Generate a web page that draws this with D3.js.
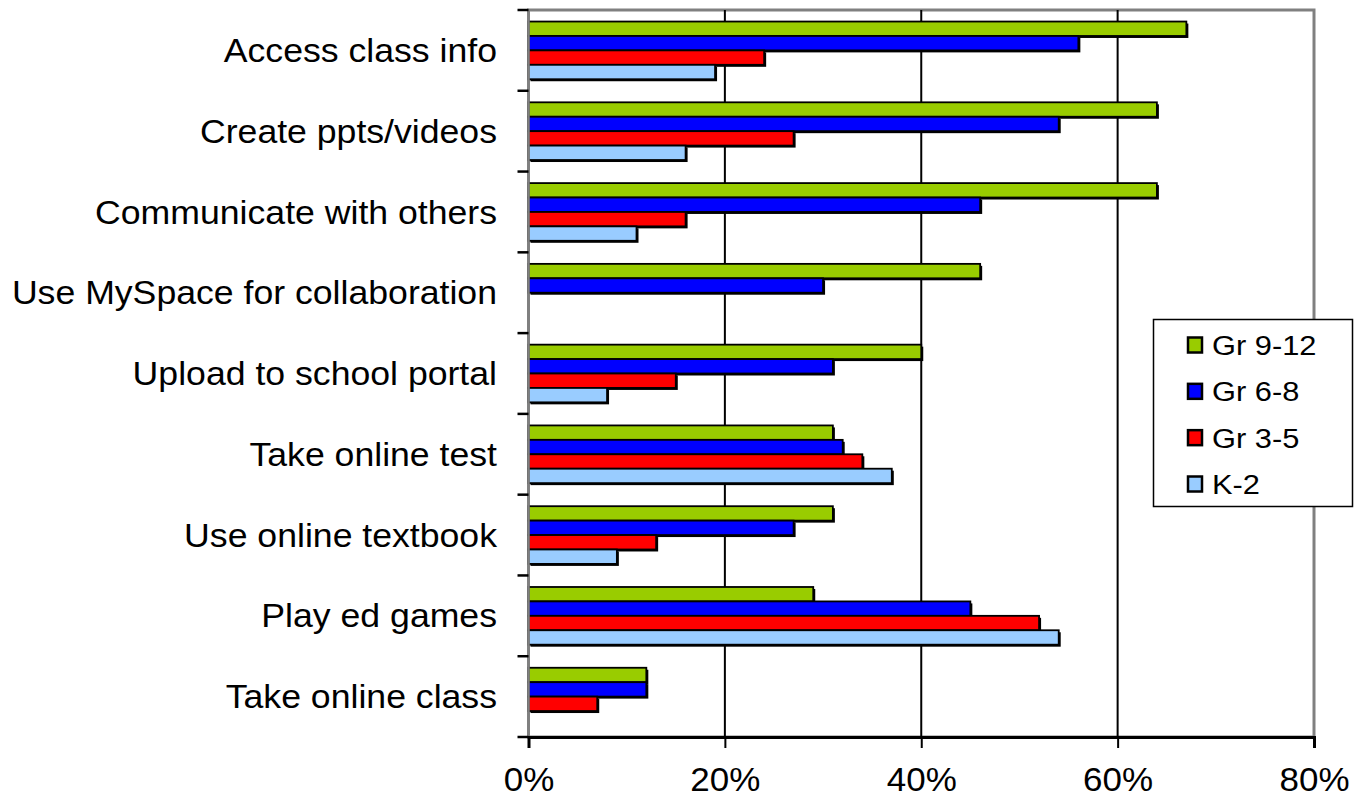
<!DOCTYPE html>
<html>
<head>
<meta charset="utf-8">
<script src="https://cdn.jsdelivr.net/npm/d3@7"></script>
<style>
  html, body { margin: 0; padding: 0; background: #fff; }
  svg { display: block; font-family: "Liberation Sans", Arial, sans-serif; }
</style>
</head>
<body>
<svg id="chart" width="1359" height="804"></svg>
<script>
// Activities, top to bottom
const categories = [
  "Access class info",
  "Create ppts/videos",
  "Communicate with others",
  "Use MySpace for collaboration",
  "Upload to school portal",
  "Take online test",
  "Use online textbook",
  "Play ed games",
  "Take online class"
];

// Grade bands, drawn top to bottom inside each activity
const seriesNames = ["Gr 9-12", "Gr 6-8", "Gr 3-5", "K-2"];
const seriesColors = ["#99CC00", "#0000FF", "#FF0000", "#99CCFF"];

// Share of students per activity (fractions)
const gr912 = [0.67, 0.64, 0.64, 0.46, 0.40, 0.31, 0.31, 0.29, 0.12];
const gr68  = [0.56, 0.54, 0.46, 0.30, 0.31, 0.32, 0.27, 0.45, 0.12];
const gr35  = [0.24, 0.27, 0.16, 0.00, 0.15, 0.34, 0.13, 0.52, 0.07];
const k2    = [0.19, 0.16, 0.11, 0.00, 0.08, 0.37, 0.09, 0.54, 0.00];

const xTicks = [0, 0.2, 0.4, 0.6, 0.8];

const seriesValues = [gr912, gr68, gr35, k2];

const svg = d3.select("#chart");

const plot = { left: 528.5, right: 1314, top: 10, bottom: 737 };

const x = d3.scaleLinear().domain([0, 0.8]).range([plot.left, plot.right]);
const y = d3.scaleBand().domain(categories).range([plot.top, plot.bottom]).padding(0);
const ySub = d3.scaleBand().domain(seriesNames).range([0, y.bandwidth()])
  .paddingInner(0).paddingOuter(0.8);

// Plot frame (grey top/right/left edges)
svg.append("rect")
  .attr("x", plot.left).attr("y", plot.top)
  .attr("width", plot.right - plot.left).attr("height", plot.bottom - plot.top)
  .attr("fill", "none").attr("stroke", "#808080").attr("stroke-width", 3);

// Vertical gridlines
svg.append("g").selectAll("line")
  .data(xTicks.filter(t => t > 0 && t < 0.8))
  .join("line")
  .attr("x1", d => x(d)).attr("x2", d => x(d))
  .attr("y1", plot.top).attr("y2", plot.bottom)
  .attr("stroke", "#000").attr("stroke-width", 2);

// Flatten into bar records
const bars = [];
categories.forEach((c, i) => {
  seriesNames.forEach((s, j) => {
    const v = seriesValues[j][i];
    if (v > 0) bars.push({ cat: c, series: s, value: v, color: seriesColors[j] });
  });
});

const barH = ySub.bandwidth();

// Drop shadows first, then the bars on top
svg.append("g").selectAll("rect")
  .data(bars)
  .join("rect")
  .attr("x", x(0) + 2)
  .attr("y", d => y(d.cat) + ySub(d.series) + 2)
  .attr("width", d => x(d.value) - x(0))
  .attr("height", barH)
  .attr("fill", "#000");

svg.append("g").selectAll("rect")
  .data(bars)
  .join("rect")
  .attr("x", x(0))
  .attr("y", d => y(d.cat) + ySub(d.series))
  .attr("width", d => x(d.value) - x(0))
  .attr("height", barH)
  .attr("fill", d => d.color)
  .attr("stroke", "#000")
  .attr("stroke-width", 1.8);

// Left axis line (grey) with black category-boundary ticks
svg.append("line")
  .attr("x1", plot.left).attr("x2", plot.left)
  .attr("y1", plot.top).attr("y2", plot.bottom)
  .attr("stroke", "#808080").attr("stroke-width", 2.5);

const boundaries = categories.map(c => y(c)).concat([plot.bottom]);
svg.append("g").selectAll("line")
  .data(boundaries)
  .join("line")
  .attr("x1", plot.left - 11).attr("x2", plot.left)
  .attr("y1", d => d).attr("y2", d => d)
  .attr("stroke", "#000").attr("stroke-width", 2.5);

// Bottom axis
const xAxis = d3.axisBottom(x)
  .tickValues(xTicks)
  .tickFormat(d3.format(".0%"))
  .tickSize(11)
  .tickPadding(20);

const gx = svg.append("g")
  .attr("transform", `translate(0,${plot.bottom})`)
  .call(xAxis);
gx.select(".domain").attr("stroke", "#000").attr("stroke-width", 3);
gx.selectAll(".tick line").attr("stroke", "#000").attr("stroke-width", 2);
gx.selectAll(".tick text")
  .attr("fill", "#000")
  .style("font-family", "'Liberation Sans', Arial, sans-serif")
  .style("font-size", "33px")
  .attr("transform", "scale(1.06,1)");

// Category labels (slightly wide lettering)
svg.append("g").selectAll("text")
  .data(categories)
  .join("text")
  .attr("transform", d => `translate(497,${y(d) + y.bandwidth() / 2}) scale(1.08,1)`)
  .attr("dy", "0.35em")
  .attr("text-anchor", "end")
  .attr("fill", "#000")
  .style("font-size", "33px")
  .text(d => d);

// Legend
const legend = svg.append("g");
legend.append("rect")
  .attr("x", 1153.5).attr("y", 319.5)
  .attr("width", 199).attr("height", 187)
  .attr("fill", "#fff").attr("stroke", "#000").attr("stroke-width", 1.5);

const legendY = d3.scalePoint().domain(seriesNames).range([345, 484]);

const items = legend.selectAll("g.item")
  .data(seriesNames.map((s, i) => ({ name: s, color: seriesColors[i] })))
  .join("g")
  .attr("class", "item")
  .attr("transform", d => `translate(0,${legendY(d.name)})`);

items.append("rect")
  .attr("x", 1188).attr("y", -7.5)
  .attr("width", 14).attr("height", 15)
  .attr("fill", d => d.color)
  .attr("stroke", "#000").attr("stroke-width", 2.5);

items.append("text")
  .attr("transform", "translate(1212,0) scale(1.1,1)")
  .attr("dy", "0.36em")
  .attr("fill", "#000")
  .style("font-size", "28px")
  .text(d => d.name);
</script>
</body>
</html>
